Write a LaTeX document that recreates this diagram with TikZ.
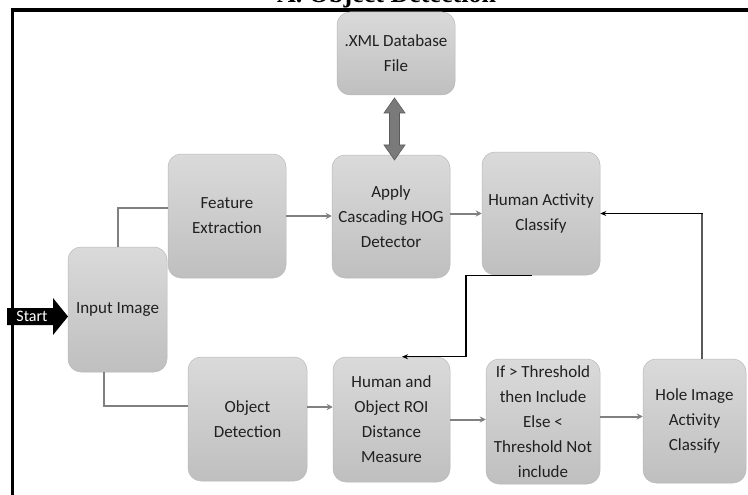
\documentclass[tikz,border=0pt]{standalone}
\usepackage{fontspec}
\usetikzlibrary{arrows.meta}
\newfontfamily\carlito{Carlito}
\newfontfamily\serifttl{Liberation Serif}
\definecolor{boxtop}{HTML}{DADADA}
\definecolor{boxbot}{HTML}{BFBFBF}
\definecolor{boxedge}{HTML}{B8B8B8}
\definecolor{boxtext}{HTML}{202020}
\definecolor{conngray}{HTML}{808080}
\definecolor{dblfill}{HTML}{7A7A7A}
\definecolor{dbledge}{HTML}{5A5A5A}
\tikzset{
  box/.style={rounded corners=13pt, top color=boxtop, bottom color=boxbot,
    draw=boxedge, line width=0.5pt, align=center, text=boxtext,
    font=\carlito\fontsize{17}{25}\selectfont, inner sep=0pt},
  gline/.style={draw=conngray, line width=2pt},
  garrow/.style={gline, -{Stealth[length=6pt,width=6pt]}},
  bline/.style={draw=black, line width=1.3pt},
  barrow/.style={bline, -{Stealth[length=6pt,width=5pt]}},
}
\begin{document}
\begin{tikzpicture}[x=1pt,y=-1pt]
\path[use as bounding box] (0,0) rectangle (748,495);
\clip (0,0) rectangle (748,495);
\fill[white] (0,0) rectangle (748,495);
% title (cut off at top)
\node[anchor=base west, inner sep=0pt, font=\serifttl\bfseries\fontsize{26}{30}\selectfont] (title) at (277,3) {A. Object Detection};
% frame
\draw[line width=3.5pt, line join=miter] (12.5,500) -- (12.5,10) -- (752,10);
% boxes
\node[box, minimum width=118pt, minimum height=83pt] (xml) at (396,53.5) {.XML Database\\File};
\node[box, minimum width=118pt, minimum height=123pt] (apply) at (391,216.5) {Apply\\Cascading HOG\\Detector};
\node[box, minimum width=118pt, minimum height=123pt] (hac) at (541,213.5) {Human Activity\\Classify};
\node[box, minimum width=118pt, minimum height=124pt] (feat) at (227,216) {Feature\\Extraction};
\node[box, minimum width=99pt, minimum height=125pt] (input) at (117.5,309.5) {Input Image};
\node[box, minimum width=119pt, minimum height=124pt] (obj) at (247.5,419) {Object\\Detection};
\node[box, minimum width=117pt, minimum height=125pt] (hum) at (391.5,419.5) {Human and\\Object ROI\\Distance\\Measure};
\node[box, minimum width=114pt, minimum height=125pt] (thr) at (543,421.5) {If > Threshold\\then Include\\Else <\\Threshold Not\\include};
\node[box, minimum width=103pt, minimum height=124pt] (hole) at (694.5,421) {Hole Image\\Activity\\Classify};
% double arrow between xml and apply
\filldraw[fill=dblfill, draw=dbledge, line width=0.6pt, line join=miter]
  (394.5,98) -- (405,113) -- (399.5,113) -- (399.5,145) -- (405,145) -- (394.5,160)
  -- (384,145) -- (389.5,145) -- (389.5,113) -- (384,113) -- cycle;
% start arrow
\fill[black] (7,308) -- (53,308) -- (53,298) -- (68,316.5) -- (53,335) -- (53,325) -- (7,325) -- cycle;
\node[text=white, inner sep=0pt, font=\carlito\fontsize{16}{18}\selectfont] (start) at (32,316.5) {Start};
% connectors
\draw[gline] (input.north) |- ([yshift=8pt]feat.west);
\draw[gline] ([xshift=-13.5pt]input.south) |- ([yshift=13pt]obj.west);
\draw[garrow] (feat.east) -- (feat.east -| apply.west);
\draw[garrow] (apply.east |- hac.west) -- (hac.west);
\draw[garrow] ([yshift=12pt]obj.east) -- ([yshift=12pt]obj.east -| hum.west);
\draw[garrow] (hum.east) -- (hum.east -| thr.west);
\draw[garrow] ([yshift=5pt]thr.east) -- ([yshift=5pt]thr.east -| hole.west);
\coordinate (hc) at ([xshift=7.5pt]hole.north |- hac.east);
\draw[draw=gray!70!black, line width=1.3pt] ([xshift=7.5pt]hole.north) -- (hc);
\draw[barrow] ([xshift=0.65pt]hc) -- (hac.east);
\draw[barrow] ([xshift=-9pt]hac.south) -| ([xshift=74.5pt]hum.north) -- ([xshift=10.5pt]hum.north);
\end{tikzpicture}
\end{document}
